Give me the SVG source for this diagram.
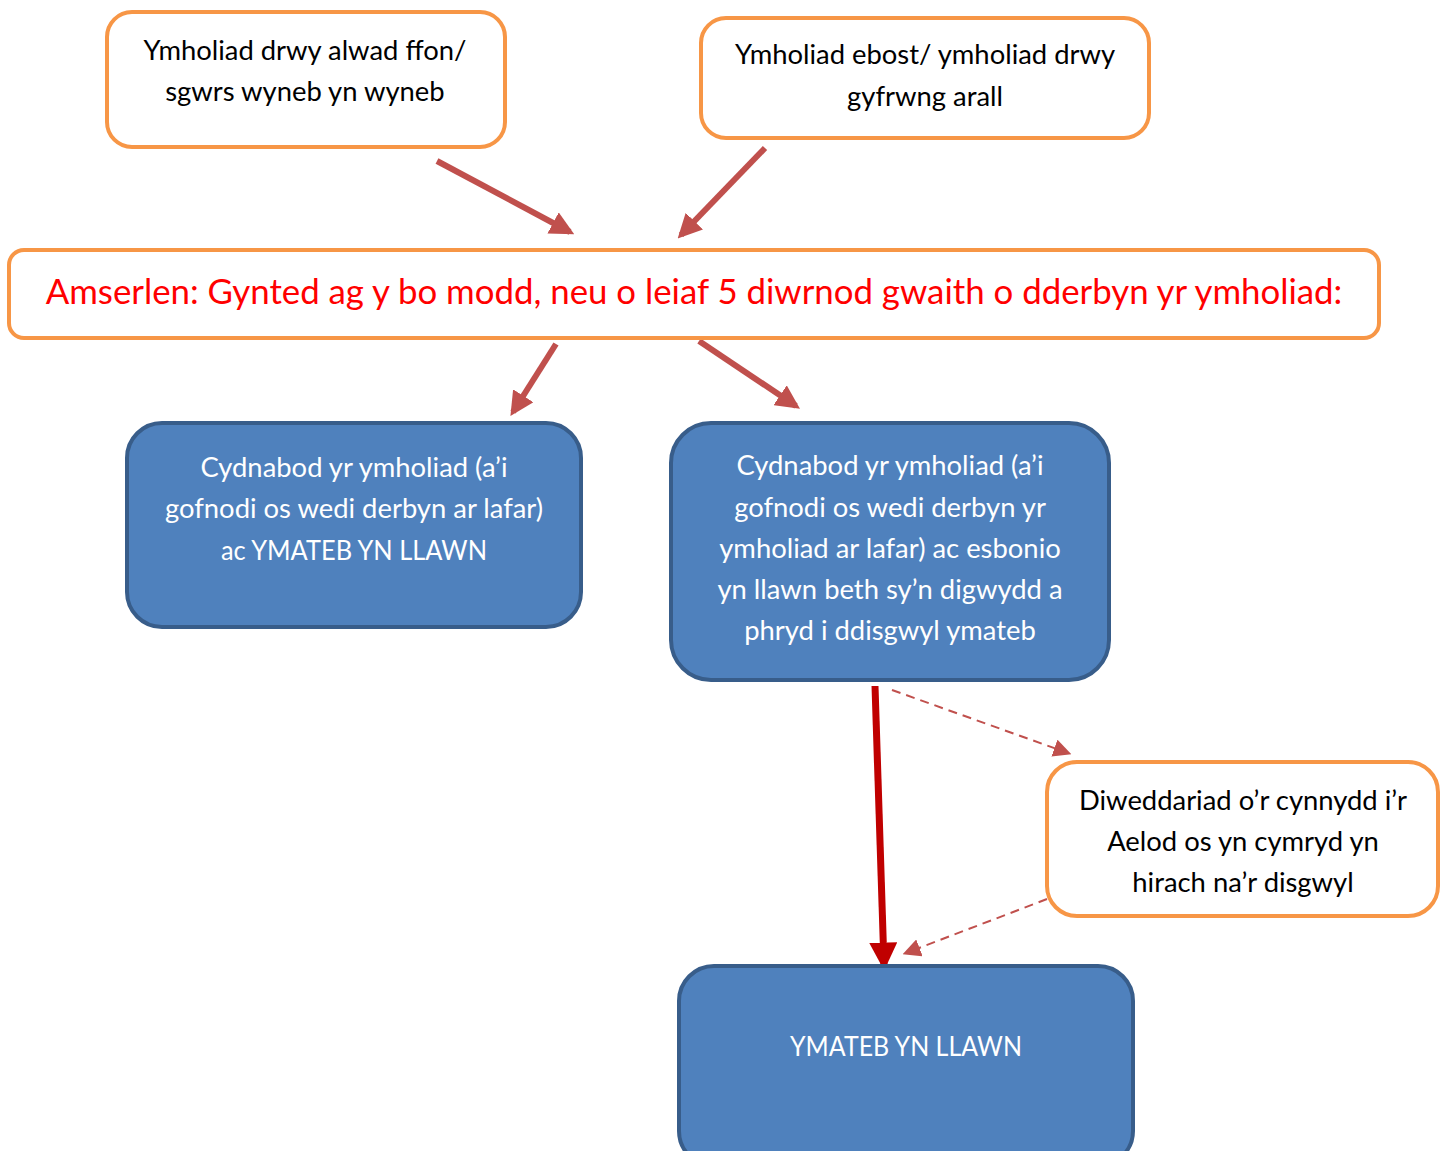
<svg xmlns="http://www.w3.org/2000/svg" width="1449" height="1151" viewBox="0 0 1449 1151">
<style>
.ob{fill:#fff;stroke:#F79646;stroke-width:4}
.bb{fill:#4F81BD;stroke:#385D8A;stroke-width:4}
text{font-family:Lato,"Open Sans",sans-serif;text-anchor:middle}
.k{font-size:27.4px;fill:#000}
.w{font-size:27.4px;fill:#fff}
.t{font-size:34.8px;fill:#FF0000}
.a{stroke:#C0504D;stroke-width:6;fill:none}
.d{stroke:#C0504D;stroke-width:2;stroke-dasharray:9 6;fill:none}
</style>
<defs>
<marker id="ah" viewBox="0 0 10 10" refX="8" refY="5" markerWidth="4" markerHeight="4" markerUnits="strokeWidth" orient="auto"><path d="M0,0 L10,5 L0,10 z" fill="#C0504D"/></marker>
<marker id="ahd" viewBox="0 0 10 10" refX="8" refY="5" markerWidth="9" markerHeight="9" markerUnits="strokeWidth" orient="auto"><path d="M0,0 L10,5 L0,10 z" fill="#C0504D"/></marker>
<marker id="ahr" viewBox="0 0 10 10" refX="8" refY="5" markerWidth="4" markerHeight="4" markerUnits="strokeWidth" orient="auto"><path d="M0,0 L10,5 L0,10 z" fill="#C00000"/></marker>
</defs>
<g id="connectors">
<line class="a" x1="437" y1="161" x2="570" y2="232" marker-end="url(#ah)"/>
<line class="a" x1="765" y1="148" x2="681" y2="235" marker-end="url(#ah)"/>
<line class="a" x1="556" y1="344" x2="513" y2="412" marker-end="url(#ah)"/>
<line class="a" x1="699" y1="341" x2="796" y2="406" marker-end="url(#ah)"/>
<line x1="875" y1="686" x2="884" y2="965" stroke="#C00000" stroke-width="7" marker-end="url(#ahr)"/>
<line class="d" x1="892" y1="690" x2="1068" y2="753" marker-end="url(#ahd)"/>
<line class="d" x1="1047" y1="899" x2="906" y2="953" marker-end="url(#ahd)"/>
</g>
<g id="n1"><rect class="ob" x="107" y="12" width="398" height="135" rx="25"/>
<text class="k" x="305" y="60">Ymholiad drwy alwad ffon/</text><text class="k" x="305" y="101">sgwrs wyneb yn wyneb</text></g>
<g id="n2"><rect class="ob" x="701" y="18" width="448" height="120" rx="25"/>
<text class="k" x="925" y="64">Ymholiad ebost/ ymholiad drwy</text><text class="k" x="925" y="106">gyfrwng arall</text></g>
<g id="n3"><rect class="ob" x="9" y="250" width="1370" height="88" rx="15"/>
<text class="t" x="694" y="304">Amserlen: Gynted ag y bo modd, neu o leiaf 5 diwrnod gwaith o dderbyn yr ymholiad:</text></g>
<g id="n4"><rect class="bb" x="127" y="423" width="454" height="204" rx="35"/>
<text class="w" x="354" y="477">Cydnabod yr ymholiad (a’i</text><text class="w" x="354" y="518">gofnodi os wedi derbyn ar lafar)</text><text class="w" x="354" y="560" textLength="266" lengthAdjust="spacingAndGlyphs">ac YMATEB YN LLAWN</text></g>
<g id="n5"><rect class="bb" x="671" y="423" width="438" height="257" rx="40"/>
<text class="w" x="890" y="475">Cydnabod yr ymholiad (a’i</text><text class="w" x="890" y="517">gofnodi os wedi derbyn yr</text><text class="w" x="890" y="558">ymholiad ar lafar) ac esbonio</text><text class="w" x="890" y="599">yn llawn beth sy’n digwydd a</text><text class="w" x="890" y="640">phryd i ddisgwyl ymateb</text></g>
<g id="n6"><rect class="ob" x="1047" y="762" width="391" height="154" rx="30"/>
<text class="k" x="1243" y="810">Diweddariad o’r cynnydd i’r</text><text class="k" x="1243" y="851">Aelod os yn cymryd yn</text><text class="k" x="1243" y="892">hirach na’r disgwyl</text></g>
<g id="n7"><rect class="bb" x="679" y="966" width="454" height="200" rx="35"/>
<text class="w" x="906" y="1056" textLength="232" lengthAdjust="spacingAndGlyphs">YMATEB YN LLAWN</text></g>
</svg>
